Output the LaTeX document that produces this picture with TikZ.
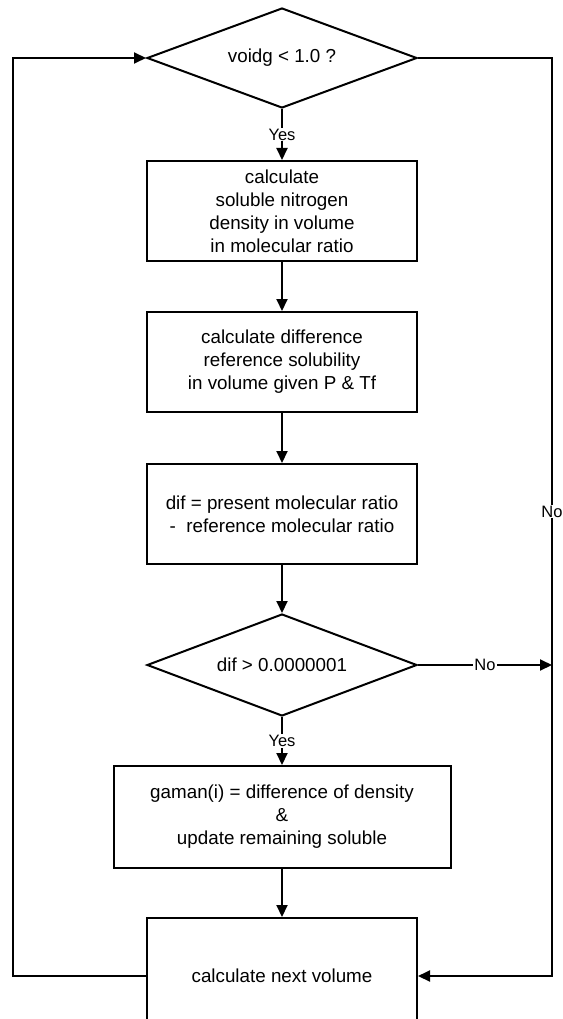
\documentclass[tikz,border=0pt]{standalone}
\usepackage{fontspec}
\setmainfont{Liberation Sans}
\usetikzlibrary{shapes.geometric, arrows.meta}

\begin{document}
\begin{tikzpicture}[x=1pt, y=-1pt,
    every node/.style={font=\fontsize{18.8}{23}\selectfont},
    box/.style={draw, line width=2pt, rectangle, align=center, minimum width=270pt, minimum height=100pt, inner sep=0pt},
    test/.style={draw, line width=2pt, diamond, aspect=2.7, minimum width=270pt, minimum height=100pt, inner sep=0pt},
    answer/.style={fill=white, inner sep=1pt, font=\fontsize{16.5}{20}\selectfont},
    flow/.style={line width=2pt, -{Triangle[length=12pt, width=11pt]}}]

    % Fix the page to the size of the chart
    \path[use as bounding box, clip] (0,0) rectangle (562,1019);

    % Tests and process boxes down the middle
    \node[test] (voidg) at (282,58) {voidg < 1.0 ?};
    \node[box] (soluble) at (282,211) {calculate\\soluble nitrogen\\density in volume\\in molecular ratio};
    \node[box] (refsol) at (282,362) {calculate difference\\reference solubility\\in volume given P \& Tf};
    \node[box] (dif) at (282,514) {dif = present molecular ratio\\-~~reference molecular ratio};
    \node[test, minimum height=102pt] (check) at (282,665) {dif > 0.0000001};
    \node[box, minimum width=337pt, minimum height=102pt] (gaman) at (282,817) {gaman(i) = difference of density\\\&\\update remaining soluble};
    \node[box, minimum height=116pt] (next) at (282,976) {calculate next volume};

    % Corners of the two loop lines
    \coordinate (lcorner) at (13,976);
    \coordinate (rcorner) at (552,976);

    % Arrows down the main column
    \draw[flow] (voidg) -- node[answer] {Yes} (soluble);
    \draw[flow] (soluble) -- (refsol);
    \draw[flow] (refsol) -- (dif);
    \draw[flow] (dif) -- (check);
    \draw[flow] (check) -- node[answer] {Yes} (gaman);
    \draw[flow] (gaman) -- (next);

    % Loop back from the next volume to the first test
    \draw[flow] (next.west) -- (lcorner) |- (voidg.west);

    % No branch of the first test
    \draw[flow] (voidg.east) -| node[answer, pos=0.747] {No} (rcorner) -- (next.east);

    % No branch of the second test
    \draw[flow] (check.east) -- node[answer] {No} (check.east -| rcorner);
\end{tikzpicture}
\end{document}
